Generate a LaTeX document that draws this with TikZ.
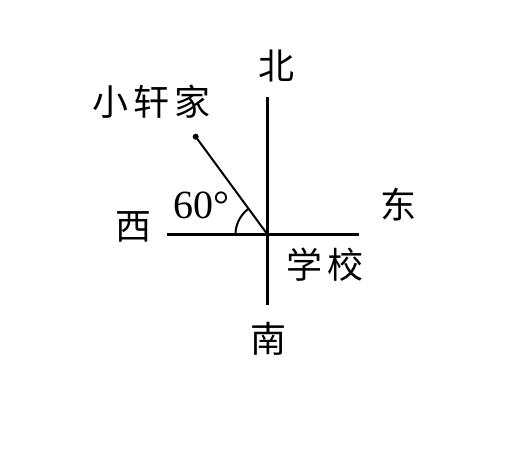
\documentclass[tikz,border=0pt]{standalone}
\usepackage{fontspec}
\setmainfont{Liberation Serif}
\newfontfamily\cjk{Noto Sans CJK SC}
\usetikzlibrary{calc}
\begin{document}
\begin{tikzpicture}[x=1pt,y=-1pt,
  lbl/.style={font=\cjk\fontsize{36}{40}\selectfont, text=black, inner sep=0pt},
  axis/.style={line width=2.4pt, black},
  ray/.style={line width=2pt, black}]
\useasboundingbox (0,0) rectangle (520,456);
\coordinate (O) at (267.5,234.5);
\coordinate (N) at (267.5,96.5);
\coordinate (S) at (267.5,305);
\coordinate (W) at (167,234.5);
\coordinate (E) at (359,234.5);
\coordinate (H) at (195.7,136.7);
\draw[axis] (N) -- (S);
\draw[axis] (W) -- (E);
\draw[ray] (H) -- (O);
\fill (H) circle (3pt);
\draw[ray] ($(O)+(-32,0)$) arc[start angle=180, end angle=233.6, radius=32];
\node[lbl] (bei) at (276.7,66) {北};
\node[lbl] (nan) at (268.3,338.5) {南};
\node[lbl] (xi) at (133.3,227) {西};
\node[lbl] (dong) at (398.3,205) {东};
\node[lbl] (xx) at (325,265) {学\kern5pt校};
\node[lbl] (home) at (151.7,101.7) {小\kern5pt轩\kern5pt家};
\node[font=\fontsize{40}{44}\selectfont, inner sep=0pt] (ang) at (201,205) {60°};
\end{tikzpicture}
\end{document}
